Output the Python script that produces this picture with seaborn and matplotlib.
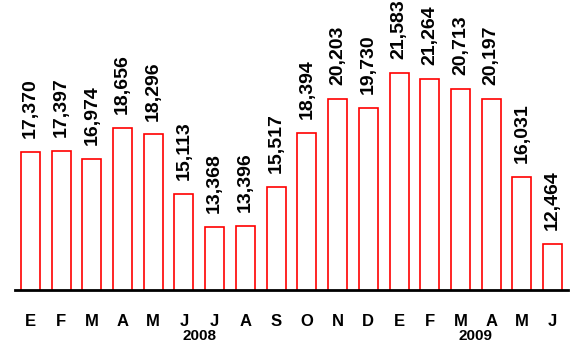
import matplotlib
matplotlib.use("Agg")
import matplotlib.pyplot as plt
import matplotlib.transforms as mtransforms
import seaborn as sns
import pandas as pd

months = ["E", "F", "M", "A", "M", "J", "J", "A", "S", "O", "N", "D",
          "E", "F", "M", "A", "M", "J"]
values = [17370, 17397, 16974, 18656, 18296, 15113, 13368, 13396, 15517,
          18394, 20203, 19730, 21583, 21264, 20713, 20197, 16031, 12464]
years = ["2008", "2009"]
year_pos = [5.5, 14.5]

sns.set_theme(style="white")
plt.rcParams["font.family"] = ["Liberation Sans", "DejaVu Sans"]

df = pd.DataFrame({"idx": list(range(len(values))), "value": values})

fig = plt.figure(figsize=(5.7, 3.42), dpi=100)
ax = fig.add_axes([0.0263, 0.152, 0.9702, 0.848])

sns.barplot(data=df, x="idx", y="value", order=list(range(len(values))),
            color="white", edgecolor="#ff0000", linewidth=1.2,
            width=0.62, saturation=1, ax=ax)

ax.set_ylim(10000, 25467)
ax.set_xlim(-0.5, len(values) - 0.5)

for i, v in enumerate(values):
    ax.annotate(f"{v:,}", (i, v), xytext=(0, 10), textcoords="offset points",
                rotation=90, ha="center", va="bottom", fontsize=14,
                fontweight="bold", color="black")

for s in ["top", "left", "right"]:
    ax.spines[s].set_visible(False)
ax.spines["bottom"].set_color("black")
ax.spines["bottom"].set_linewidth(2)

ax.set_yticks([])
ax.set_xticks(range(len(values)))
ax.set_xticklabels(months, fontsize=12, fontweight="bold")
ax.tick_params(axis="x", which="major", length=0, pad=17, colors="black")
ax.set_xticks([i - 0.5 for i in range(len(values) + 1)], minor=True)
ax.tick_params(axis="x", which="minor", length=6, width=2, color="black",
               direction="out")
ax.set_xlabel("")
ax.set_ylabel("")

trans = mtransforms.blended_transform_factory(ax.transData, fig.transFigure)
for y, xp in zip(years, year_pos):
    ax.text(xp, 1 - 336 / 342, y, transform=trans, ha="center", va="center",
            fontsize=11, fontweight="bold", color="black")

fig.savefig("out.png", dpi=100)
